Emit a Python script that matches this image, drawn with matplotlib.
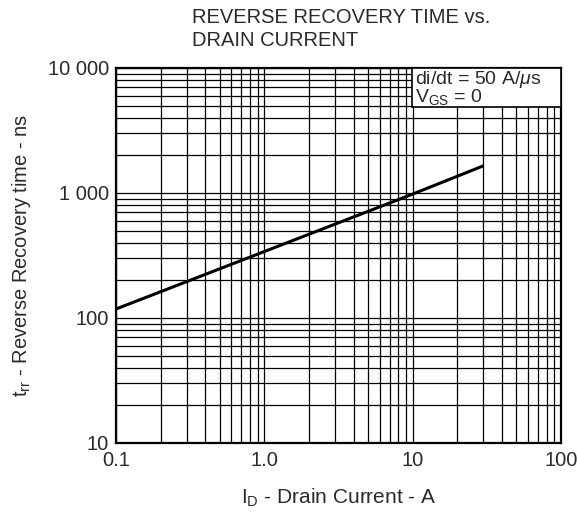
import matplotlib.pyplot as plt
from matplotlib.patches import Rectangle
from matplotlib.ticker import FixedLocator, LogLocator, NullFormatter

# values
drain_current = [0.1, 1.0, 10, 30]
recovery_time = [118, 340, 980, 1650]

x_ticks = [0.1, 1.0, 10, 100]
x_tick_labels = ['0.1', '1.0', '10', '100']
y_ticks = [10, 100, 1000, 10000]
y_tick_labels = ['10', '100', '1 000', '10 000']

plt.rcParams['font.family'] = ['Liberation Sans', 'DejaVu Sans']
plt.rcParams['mathtext.fontset'] = 'custom'
plt.rcParams['mathtext.rm'] = 'Liberation Sans'
plt.rcParams['mathtext.it'] = 'Liberation Sans:italic'

txt = '#2a2a2a'

fig = plt.figure(figsize=(5.77, 5.12), dpi=100)
ax = fig.add_axes([0.2010, 0.1348, 0.7712, 0.7324])

ax.plot(drain_current, recovery_time, color='black', lw=2.2, solid_capstyle='butt', zorder=3)

ax.set_xscale('log')
ax.set_yscale('log')
ax.set_xlim(0.1, 100)
ax.set_ylim(10, 10000)

ax.xaxis.set_major_locator(FixedLocator(x_ticks))
ax.set_xticklabels(x_tick_labels)
ax.yaxis.set_major_locator(FixedLocator(y_ticks))
ax.set_yticklabels(y_tick_labels)
ax.xaxis.set_minor_locator(LogLocator(base=10, subs=range(2, 10)))
ax.yaxis.set_minor_locator(LogLocator(base=10, subs=range(2, 10)))
ax.xaxis.set_minor_formatter(NullFormatter())
ax.yaxis.set_minor_formatter(NullFormatter())
ax.tick_params(which='both', length=0, labelsize=14.5, colors=txt)
ax.tick_params(axis='x', pad=6)
ax.tick_params(axis='y', pad=5)

ax.grid(True, which='both', color='black', lw=0.9)
for s in ax.spines.values():
    s.set_linewidth(1.6)

# annotation box in the upper right corner
box = Rectangle((0.665, 0.896), 0.335, 0.104, transform=ax.transAxes,
                facecolor='white', edgecolor='black', lw=1.2, zorder=4)
ax.add_patch(box)
ax.text(0.673, 0.997, 'di/dt = 50 A/$\\mu$s\nV$_{\\mathregular{GS}}$ = 0',
        transform=ax.transAxes, fontsize=14, va='top', ha='left',
        linespacing=0.8, zorder=5, color=txt)

fig.text(0.333, 1 - 23 / 512, 'REVERSE RECOVERY TIME vs.', fontsize=14.5,
         va='baseline', ha='left', color=txt)
fig.text(0.333, 1 - 46 / 512, 'DRAIN CURRENT', fontsize=14.5,
         va='baseline', ha='left', color=txt)
ax.set_xlabel(r'I$_{\mathregular{D}}$ - Drain Current - A', fontsize=15,
              labelpad=12, color=txt)
ax.set_ylabel(r't$_{\mathregular{rr}}$ - Reverse Recovery time - ns', fontsize=14.5,
              labelpad=11, color=txt)

fig.savefig('out.png', dpi=100)
